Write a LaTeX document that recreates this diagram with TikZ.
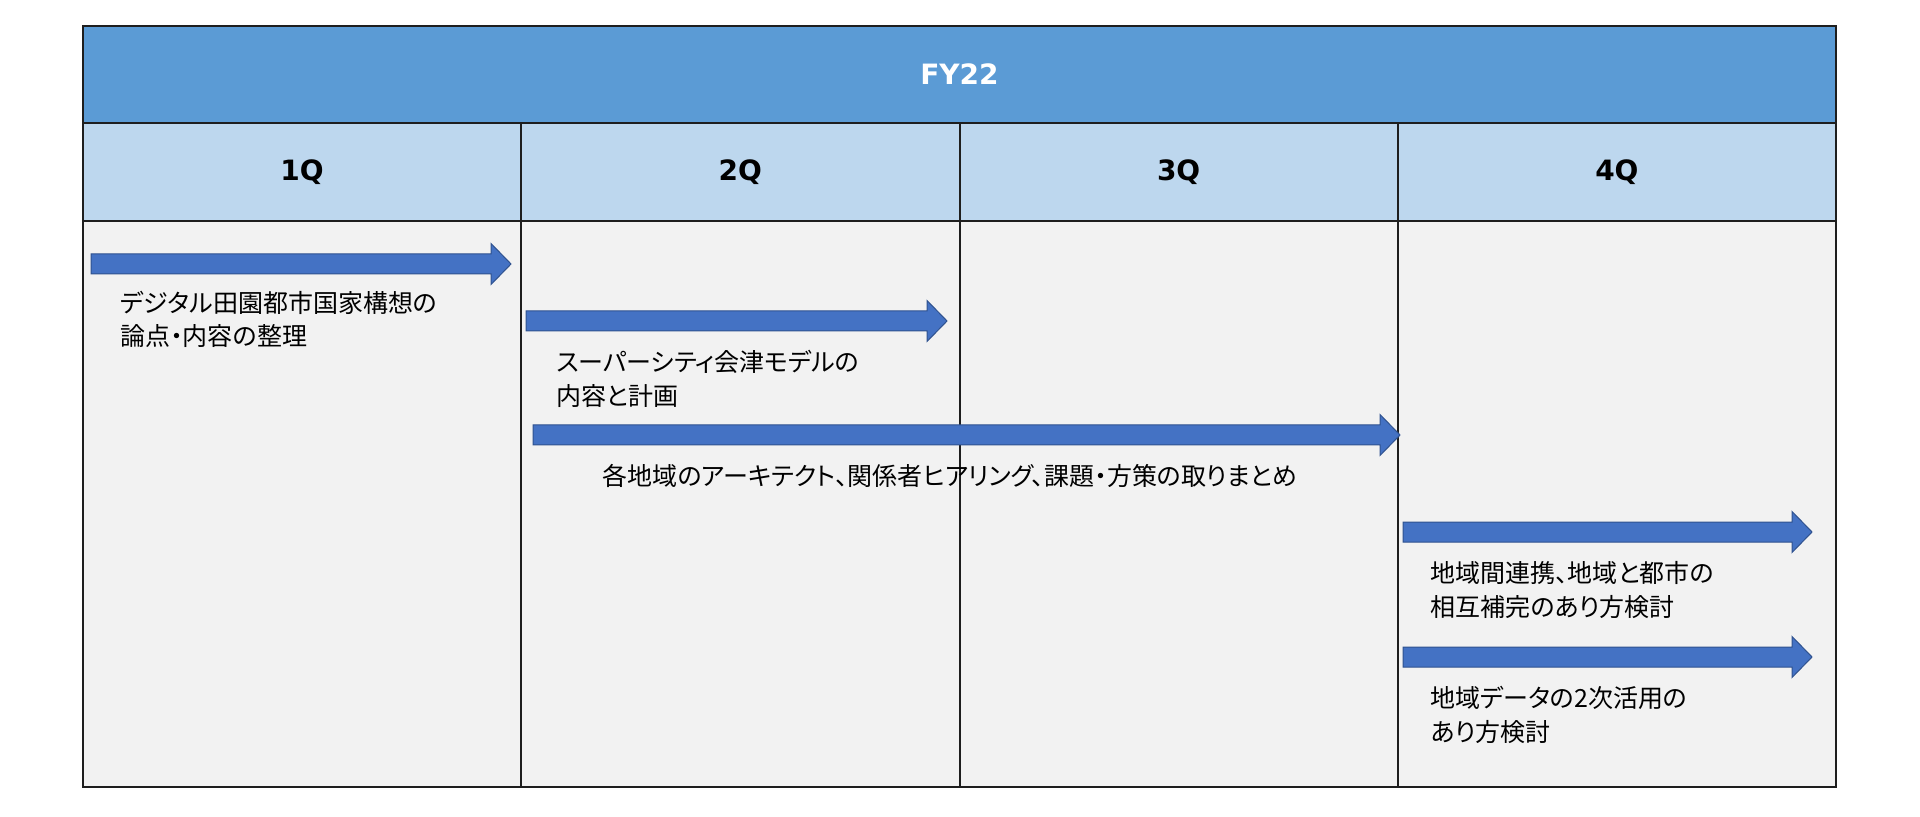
\documentclass[tikz,border=0pt]{standalone}
\usepackage{fontspec}
\setmainfont{Noto Sans CJK JP}[RawFeature=+palt]
\newfontfamily\headfont{DejaVu Sans}
\usetikzlibrary{positioning,calc}

\definecolor{fyblue}{HTML}{5B9BD5}
\definecolor{qblue}{HTML}{BDD7EE}
\definecolor{cellgray}{HTML}{F2F2F2}
\definecolor{barblue}{HTML}{4472C4}
\definecolor{barline}{HTML}{2F528F}
\definecolor{gridline}{HTML}{1E1E1E}

\tikzset{
  cell/.style={draw=gridline, line width=1pt, inner sep=0pt, outer sep=0pt, anchor=north west},
  yearcell/.style={cell, fill=fyblue, text=white, minimum width=876.5pt, minimum height=48.5pt,
                   font=\headfont\bfseries\fontsize{14}{17}\selectfont},
  qcell/.style={cell, fill=qblue, minimum width=219.125pt, minimum height=49pt,
                font=\headfont\bfseries\fontsize{14}{17}\selectfont},
  bodycell/.style={cell, fill=cellgray, minimum width=219.125pt, minimum height=283pt},
  bar/.style={fill=barblue, draw=barline, line width=0.5pt},
  note/.style={anchor=north west, inner sep=0pt, align=left, font=\fontsize{12.5}{16.75}\selectfont},
}

\begin{document}
\begin{tikzpicture}[x=0.5pt, y=-0.5pt]
    \fill[white] (0,0) rectangle (1920,817);
    \useasboundingbox (0,0) rectangle (1920,817);

    % table
    \node[yearcell]                    (fy) at (83,26)          {FY22};
    \node[qcell]                       (q1) at (fy.south west)  {1Q};
    \node[qcell, right=0pt of q1]      (q2)                     {2Q};
    \node[qcell, right=0pt of q2]      (q3)                     {3Q};
    \node[qcell, right=0pt of q3]      (q4)                     {4Q};
    \node[bodycell, below=0pt of q1]   (c1)                     {};
    \node[bodycell, below=0pt of q2]   (c2)                     {};
    \node[bodycell, below=0pt of q3]   (c3)                     {};
    \node[bodycell, below=0pt of q4]   (c4)                     {};

    % arrows
    \coordinate (s1) at (91,264);   \coordinate (e1) at (511,264);
    \coordinate (s2) at (526,321);  \coordinate (e2) at (947,321);
    \coordinate (s3) at (533,435);  \coordinate (e3) at (1400,435);
    \coordinate (s4) at (1403,532); \coordinate (e4) at (1812,532);
    \coordinate (s5) at (1403,657); \coordinate (e5) at (1812,657);

    \foreach \i in {1,...,5}
        \filldraw[bar] ($(s\i)+(0,-10)$) -- ($(e\i)+(-20,-10)$) -- ($(e\i)+(-20,-20.5)$) -- (e\i)
                       -- ($(e\i)+(-20,20.5)$) -- ($(e\i)+(-20,10)$) -- ($(s\i)+(0,10)$) -- cycle;

    % labels
    \node[note, below right=13.3pt and 14.5pt of s1] (t1) {デジタル田園都市国家構想の\\論点・内容の整理};
    \node[note, below right=14.5pt and 15pt of s2]   (t2) {スーパーシティ会津モデルの\\内容と計画};
    \node[note, below right=14.5pt and 34.5pt of s3] (t3) {各地域のアーキテクト、関係者ヒアリング、課題・方策の取りまとめ};
    \node[note, below right=14.5pt and 13.5pt of s4] (t4) {地域間連携、地域と都市の\\相互補完のあり方検討};
    \node[note, below right=14.5pt and 13.5pt of s5] (t5) {地域データの2次活用の\\あり方検討};
\end{tikzpicture}
\end{document}
